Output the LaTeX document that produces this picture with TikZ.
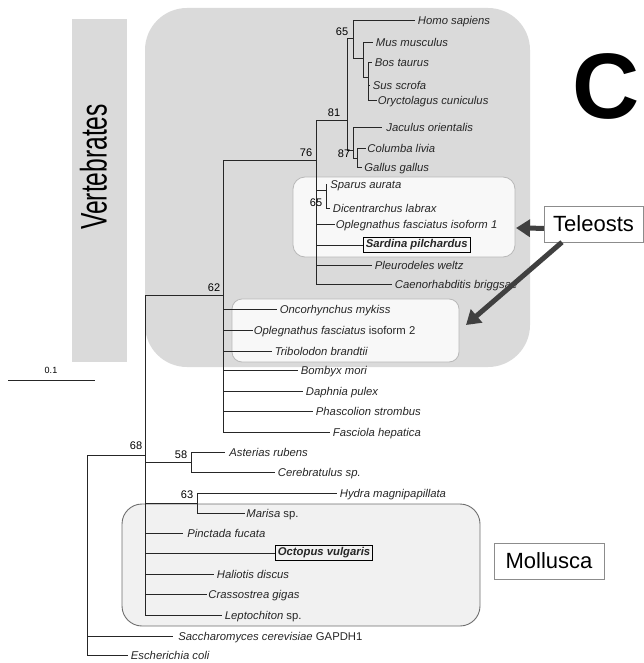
\documentclass[tikz,border=0pt]{standalone}
\usepackage{fontspec}
\usepackage{graphicx}
\setmainfont{Liberation Sans}
\usetikzlibrary{arrows.meta}

\definecolor{vertgray}{HTML}{DADADA}
\definecolor{teleofill}{HTML}{F8F8F8}
\definecolor{teleoline}{HTML}{B8B8B8}
\definecolor{mollfill}{HTML}{F1F1F1}
\definecolor{mollline}{HTML}{6E6E6E}
\definecolor{arrowgray}{HTML}{404040}

\tikzset{
  branch/.style={black!85, line width=0.8pt},
  leaf/.style={anchor=base west, yshift=-4.5pt, inner sep=2.5pt,
               font=\fontsize{11.3}{13}\selectfont\itshape},
  boxleaf/.style={draw=black, line width=0.8pt, anchor=west, inner sep=2.5pt,
                  font=\fontsize{11.3}{13}\selectfont\bfseries\itshape},
  boot/.style={inner sep=0pt, font=\fontsize{11}{12}\selectfont},
  tagbox/.style={draw=black!45, fill=white, minimum width=99pt, minimum height=36pt,
                 inner sep=0pt, font=\fontsize{22}{24}\selectfont},
  bigarrow/.style={arrowgray, line width=5pt, -{Triangle[length=14pt, width=17pt]}}
}

\begin{document}
\begin{tikzpicture}[x=1pt, y=-1pt]
  \useasboundingbox (0,0) rectangle (644,663);

  % shaded groups
  \fill[vertgray, rounded corners=42pt] (145,8) rectangle (530,367);
  \fill[vertgray] (72,19) rectangle (127,362);
  \node[rotate=90, inner sep=0pt, font=\fontsize{37}{37}\selectfont] (vert) at (93.5,167)
    {\scalebox{0.665}[1]{Vertebrates}};
  \filldraw[fill=teleofill, draw=teleoline, line width=0.8pt, rounded corners=12pt]
    (293,177) rectangle (515,257);
  \filldraw[fill=teleofill, draw=teleoline, line width=0.8pt, rounded corners=10pt]
    (232,299) rectangle (459,362);
  \filldraw[fill=mollfill, draw=mollline, line width=0.9pt, rounded corners=20pt]
    (122,504) rectangle (480,626);

  % panel letter
  \node[inner sep=0pt, font=\fontsize{93}{93}\selectfont\bfseries] (panel) at (606,86) {C};

  % scale bar
  \draw[branch] (8,380) -- (95,380);
  \node[inner sep=0pt, font=\fontsize{9}{10}\selectfont] (scale) at (51,370) {0.1};

  % internal nodes of the tree
  \coordinate (root) at (87,455);
  \coordinate (n68) at (145,455);
  \coordinate (n62) at (223,295);
  \coordinate (n76) at (316,160);
  \coordinate (n81) at (347,120);
  \coordinate (n65a) at (353,38);
  \coordinate (nmus) at (363,58);
  \coordinate (nbos) at (368,77);
  \coordinate (njac) at (353,150);
  \coordinate (n87) at (357,158);
  \coordinate (n65b) at (326,190);
  \coordinate (n58) at (191,462);
  \coordinate (n63) at (197,503);

  % backbone
  \draw[branch] (root) -- (n68);
  \draw[branch] (n68) |- (n62);
  \draw[branch] (n62) |- (n76);
  \draw[branch] (n76) |- (n81);
  \draw[branch] (n81) |- (n65a);
  \draw[branch] (n81) |- (njac);
  \draw[branch] (n65a) |- (nmus);
  \draw[branch] (nmus) |- (nbos);
  \draw[branch] (njac) |- (n87);
  \draw[branch] (n76) |- (n65b);
  \draw[branch] (n68) |- (n58);
  \draw[branch] (n68) |- (n63);

  % mammals and birds
  \draw[branch] (n65a) |- (415,20) node[leaf] (homo) {Homo sapiens};
  \draw[branch] (nmus) |- (373,42) node[leaf] (mus) {Mus musculus};
  \draw[branch] (nbos) |- (372,62) node[leaf] (bos) {Bos taurus};
  \draw[branch] (nbos) |- (370,85) node[leaf] (sus) {Sus scrofa};
  \draw[branch] (nbos) |- (377,100) node[leaf, inner sep=0.5pt] (orycto) {Oryctolagus cuniculus};
  \draw[branch] (njac) |- (382,127) node[leaf, inner sep=4pt] (jaculus) {Jaculus orientalis};
  \draw[branch] (n87) |- (366,148) node[leaf, inner sep=1pt] (columba) {Columba livia};
  \draw[branch] (n87) |- (362,167) node[leaf, inner sep=2pt] (gallus) {Gallus gallus};

  % fishes and the rest of clade 76
  \draw[branch] (n65b) |- (326,184) node[leaf, inner sep=4pt] (sparus) {Sparus aurata};
  \draw[branch] (n65b) |- (330,208) node[leaf] (dicen) {Dicentrarchus labrax};
  \draw[branch] (n76) |- (335,224) node[leaf, inner sep=0.5pt] (oplega) {Oplegnathus fasciatus isoform 1};
  \draw[branch] (n76) |- (363,245) node[boxleaf] (sardina) {Sardina pilchardus};
  \draw[branch] (n76) |- (372,265) node[leaf] (pleuro) {Pleurodeles weltz};
  \draw[branch] (n76) |- (392,284) node[leaf] (caeno) {Caenorhabditis briggsae};

  % clade 62
  \draw[branch] (n62) |- (277,309) node[leaf] (oncor) {Oncorhynchus mykiss};
  \draw[branch] (n62) |- (253,330) node[leaf, inner sep=0.5pt] (oplegb) {Oplegnathus fasciatus \upshape isoform 2};
  \draw[branch] (n62) |- (272,351) node[leaf] (tribo) {Tribolodon brandtii};
  \draw[branch] (n62) |- (298,370) node[leaf] (bombyx) {Bombyx mori};
  \draw[branch] (n62) |- (303,391) node[leaf] (daphnia) {Daphnia pulex};
  \draw[branch] (n62) |- (313,411) node[leaf] (phasco) {Phascolion strombus};
  \draw[branch] (n62) |- (330,432) node[leaf] (fasciola) {Fasciola hepatica};

  % lower part of the tree
  \draw[branch] (n58) |- (225,452) node[leaf, inner sep=4pt] (asterias) {Asterias rubens};
  \draw[branch] (n58) |- (275,472) node[leaf] (cerebr) {Cerebratulus sp.};
  \draw[branch] (n63) |- (337,493) node[leaf] (hydra) {Hydra magnipapillata};
  \draw[branch] (n63) |- (245,513) node[leaf, inner sep=1pt] (marisa) {Marisa \upshape sp.};
  \draw[branch] (n68) |- (183,533) node[leaf, inner sep=4pt] (pinctada) {Pinctada fucata};
  \draw[branch] (n68) |- (275,553) node[boxleaf] (octopus) {Octopus vulgaris};
  \draw[branch] (n68) |- (214,574) node[leaf] (haliotis) {Haliotis discus};
  \draw[branch] (n68) |- (207,594) node[leaf, inner sep=1pt] (crasso) {Crassostrea gigas};
  \draw[branch] (n68) |- (222,615) node[leaf] (lepto) {Leptochiton \upshape sp.};
  \draw[branch] (root) |- (173,636) node[leaf, inner sep=5pt] (sacch) {Saccharomyces cerevisiae \upshape GAPDH1};
  \draw[branch] (root) |- (128,655) node[leaf] (ecoli) {Escherichia coli};

  % bootstrap values
  \node[boot] (b65a) at (342,32) {65};
  \node[boot] (b81) at (334,113) {81};
  \node[boot] (b87) at (344,154) {87};
  \node[boot] (b76) at (306,153) {76};
  \node[boot] (b65b) at (316,203) {65};
  \node[boot] (b62) at (214,288) {62};
  \node[boot] (b68) at (136,446) {68};
  \node[boot] (b58) at (181,455) {58};
  \node[boot] (b63) at (187,495) {63};

  % group labels
  \node[tagbox] (teleo) at (593.5,224) {Teleosts};
  \node[tagbox, minimum width=110pt] (mollusca) at (549,561) {Mollusca};
  \coordinate (tipa) at (516,228);
  \coordinate (tipb) at (466,325);
  \draw[bigarrow] (teleo.185) -- (tipa);
  \draw[bigarrow] (teleo.210) -- (tipb);
\end{tikzpicture}
\end{document}
